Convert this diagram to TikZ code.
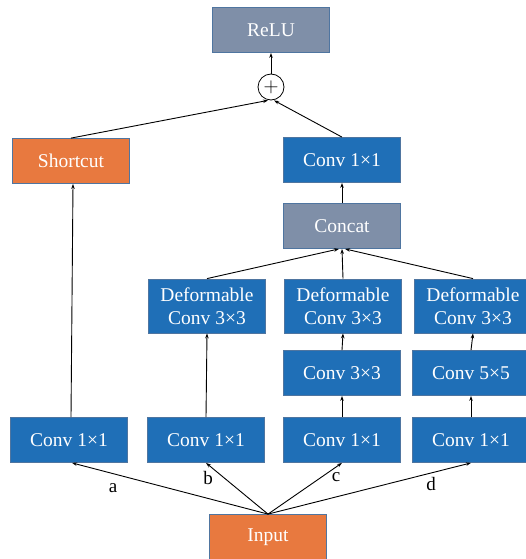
\documentclass[tikz,border=0pt]{standalone}
\usepackage{fontspec}
\setmainfont{Liberation Serif}
\usetikzlibrary{arrows.meta}
\definecolor{blk}{HTML}{1F6FB7}
\definecolor{org}{HTML}{E8793F}
\definecolor{gry}{HTML}{7F8FA8}
\definecolor{edg}{HTML}{4F75A0}
\begin{document}
\begin{tikzpicture}[x=1pt,y=-1pt,
		box/.style={draw=edg,line width=0.8pt,text=white,minimum width=117pt,minimum height=45pt,inner sep=0pt,align=center,font=\fontsize{19.5}{23}\selectfont},
		convbox/.style={box,fill=blk},
		outbox/.style={box,fill=org},
		grybox/.style={box,fill=gry},
		flow/.style={-{Stealth[length=5pt,width=3.5pt]},line width=0.9pt},
		lbl/.style={font=\fontsize{19}{20}\selectfont}]
		\useasboundingbox (0,0) rectangle (526,559);

		% вход
		\node [outbox] (input) at ( 268, 537 ) {Input};

		% нижний ряд 1x1
		\node [convbox] (c1) at ( 69, 440 ) {Conv 1×1};
		\node [convbox] (c2) at ( 206, 440 ) {Conv 1×1};
		\node [convbox] (c3) at ( 342, 440 ) {Conv 1×1};
		\node [convbox] (c4) at ( 471, 440 ) {Conv 1×1};

		% средний ряд
		\node [convbox] (k3) at ( 342, 373 ) {Conv 3×3};
		\node [convbox] (k5) at ( 471, 373 ) {Conv 5×5};

		% деформируемые свертки
		\node [convbox,minimum height=54pt] (d2) at ( 207, 306 ) {Deformable\\Conv 3×3};
		\node [convbox,minimum height=54pt] (d3) at ( 343, 306 ) {Deformable\\Conv 3×3};
		\node [convbox,minimum height=54pt] (d4) at ( 473, 306 ) {Deformable\\Conv 3×3};

		% верхняя часть
		\node [grybox] (concat) at ( 342, 226 ) {Concat};
		\node [convbox] (ctop) at ( 342, 160 ) {Conv 1×1};
		\node [outbox] (shortcut) at ( 71, 161 ) {Shortcut};
		\node [draw,circle,line width=0.8pt,minimum size=26pt,inner sep=0pt,font=\fontsize{22}{22}\selectfont] (plus) at ( 271, 87 ) {$+$};
		\node [grybox] (relu) at ( 271, 30 ) {ReLU};

		% ветви от входа
		\draw [flow] (input.north) -- ([xshift=3pt]c1.south);
		\draw [flow] (input.north) -- (c2.south);
		\draw [flow] (input.north) -- (c3.south);
		\draw [flow] (input.north) -- (c4.south);
		\node [lbl] (la) at ( 113, 488 ) {a};
		\node [lbl] (lb) at ( 208, 478 ) {b};
		\node [lbl] (lc) at ( 336, 477 ) {c};
		\node [lbl] (ld) at ( 431, 484 ) {d};

		% вертикальные связи
		\draw [flow] ([xshift=2pt]c1.north) -- ([xshift=2pt]shortcut.south);
		\draw [flow] (c2.north) -- (d2.south);
		\draw [flow] (c3.north) -- (k3.south);
		\draw [flow] (k3.north) -- (d3.south);
		\draw [flow] (c4.north) -- (k5.south);
		\draw [flow] (k5.north) -- (d4.south);
		\draw [flow] (d2.north) -- ([xshift=-3pt]concat.south);
		\draw [flow] (d3.north) -- (concat.south);
		\draw [flow] (d4.north) -- ([xshift=3pt]concat.south);
		\draw [flow] (concat.north) -- (ctop.south);
		\draw [flow] (ctop.north) -- ([xshift=3pt]plus.south);
		\draw [flow] (shortcut.north) -- ([xshift=-3pt]plus.south);
		\draw [flow] (plus.north) -- (relu.south);
	\end{tikzpicture}
\end{document}
